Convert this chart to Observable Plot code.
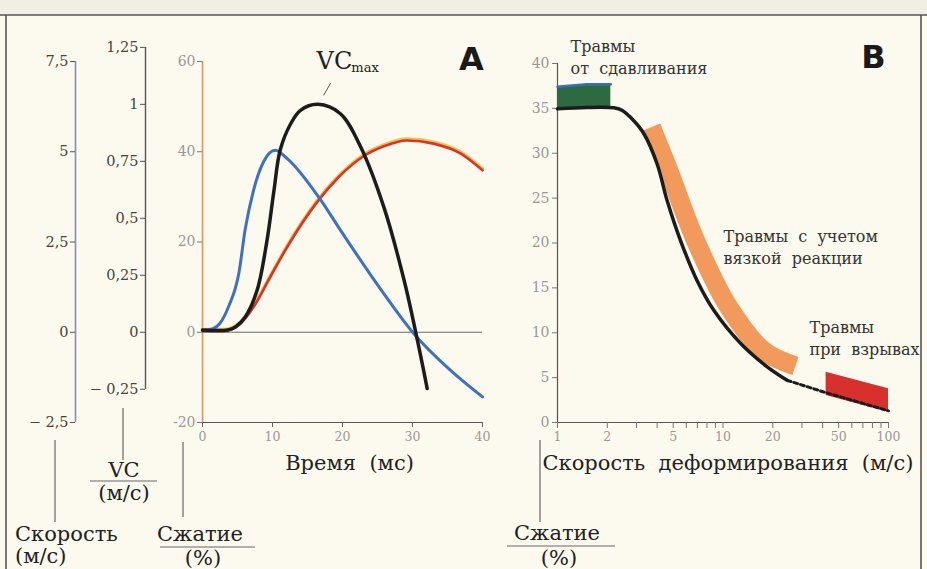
<!DOCTYPE html>
<html>
<head>
<meta charset="utf-8">
<script src="https://cdn.jsdelivr.net/npm/d3@7"></script>
<script src="https://cdn.jsdelivr.net/npm/@observablehq/plot@0.6"></script>
<style>
  html, body { margin: 0; padding: 0; background: #fcf9ee; }
  #wrap { position: relative; width: 927px; height: 569px; overflow: hidden; background: #fcf9ee; }
  #wrap > svg { position: absolute; top: 0; }
  #overlay { position: absolute; left: 0; top: 0; pointer-events: none; }
</style>
</head>
<body>
<div id="wrap"></div>
<script>
// ---------- Panel A data ----------
// velocity (m/s), blue
const velTime  = [0, 1.5, 2.5, 3.7, 5.2, 6.1, 7.3, 8.8, 10.4, 12.1, 16.9, 19.7, 25.9, 30.2, 35.4, 40];
const velSpeed = [0.05, 0.1, 0.25, 0.70, 1.64, 2.85, 3.94, 4.75, 5.04, 4.81, 3.66, 2.83, 1.07, -0.04, -1.05, -1.79];
// viscous criterion VC (m/s), black
const vcTime  = [0, 3.6, 4.7, 6.1, 7.8, 9.2, 10.2, 11.1, 12.6, 14, 16.5, 19.7, 22.6, 25.9, 28.8, 30.7, 32.1];
const vcValue = [0.01, 0.01, 0.023, 0.067, 0.184, 0.40, 0.62, 0.80, 0.915, 0.974, 1.0, 0.959, 0.813, 0.55, 0.228, -0.035, -0.247];
// compression (%), red
const compTime = [0, 3, 5.4, 7.3, 9.7, 12.1, 16.4, 19.4, 23, 25.9, 29.2, 33, 36.9, 40];
const compPct  = [0.3, 0.3, 1.9, 5.6, 12.3, 18.9, 28.9, 34.3, 39, 41.2, 42.5, 41.8, 39.6, 35.9];

// axis ticks of panel A
const speedTicks = [-2.5, 0, 2.5, 5, 7.5];
const vcTicks    = [-0.25, 0, 0.25, 0.5, 0.75, 1, 1.25];
const compTicks  = [-20, 0, 20, 40, 60];
const timeTicks  = [0, 10, 20, 30, 40];

// ---------- Panel B data ----------
const rateSolid  = [1, 1.5, 2.19, 2.45, 2.76, 3.32, 4.0, 4.6, 5.53, 6.98, 8.8, 12.8, 18.5, 24.4];
const compSolid  = [34.95, 35.1, 35.06, 34.8, 34.0, 32.2, 28.8, 24.7, 20.3, 15.8, 12.5, 8.8, 6.2, 4.7];
const rateDashed = [24.4, 40.6, 100];
const compDashed = [4.7, 3.4, 1.3];
const crushRate  = [1, 1.5, 2.1];
const crushLow   = [35.0, 35.1, 35.1];
const crushHigh  = [37.4, 37.7, 37.7];
const viscRate   = [3.69, 4.7, 6.82, 10.84, 17.6, 27.4];
const viscComp   = [32.9, 28.1, 20.3, 12.85, 8.0, 6.3];
const blastRate  = [42, 100];
const blastLow   = [3.0, 1.15];
const blastHigh  = [5.6, 3.75];

const rateTicks  = [1,2,3,4,5,6,7,8,9,10,20,30,40,50,60,70,80,90,100];
const rateLabels = [1,2,5,10,20,50,100];
const compBTicks = [0,5,10,15,20,25,30,35,40];

// ---------- helpers ----------
const SPEED_K = 8;     // 1 m/s of velocity on the shared compression scale
const VC_K = 50.5;     // 1 m/s of VC on the shared compression scale
const comma = v => (v < 0 ? "\u2212 " : "") + String(Math.abs(v)).replace(".", ",");
const zip = (xs, ys, kx, ky) => xs.map((x, i) => ({[kx]: x, [ky]: ys[i]}));

const vel  = zip(velTime, velSpeed, "t", "v");
const vc   = zip(vcTime, vcValue, "t", "v");
const comp = zip(compTime, compPct, "t", "c");

const solid  = zip(rateSolid, compSolid, "r", "c");
const dashed = zip(rateDashed, compDashed, "r", "c");
const crush  = crushRate.map((r, i) => ({r, lo: crushLow[i], hi: crushHigh[i]}));
const visc   = zip(viscRate, viscComp, "r", "c");
const blast  = blastRate.map((r, i) => ({r, lo: blastLow[i], hi: blastHigh[i]}));

const FONT = "DejaVu Serif, serif";
const SANS = "DejaVu Sans, sans-serif";
const baseStyle = {background: "transparent", fontFamily: FONT, overflow: "visible", color: "#222"};

// ---------- Panel A ----------
const plotA = Plot.plot({
  width: 500, height: 569,
  marginLeft: 202, marginRight: 18, marginTop: 61, marginBottom: 147,
  x: {domain: [0, 40], axis: null},
  y: {domain: [-20, 60], axis: null},
  style: baseStyle,
  marks: [
    // compression axis (orange line)
    Plot.ruleX([0], {y1: -20, y2: 60, stroke: "#e39463", strokeWidth: 1.6}),
    Plot.axisY(compTicks, {anchor: "left", tickSize: 5, tickPadding: 2, fontSize: 14, fill: "#999", stroke: "#777", label: null, tickFormat: d => String(d)}),
    // velocity axis
    Plot.ruleX([0], {y1: speedTicks[0] * SPEED_K, y2: speedTicks[speedTicks.length - 1] * SPEED_K, dx: -127, stroke: "#7d8ec6", strokeWidth: 1.6}),
    Plot.axisY(speedTicks.map(v => v * SPEED_K), {anchor: "left", dx: -127, tickSize: 5, tickPadding: 2, fontSize: 14.5, fill: "#444", stroke: "#555", label: null, tickFormat: d => comma(d / SPEED_K)}),
    // VC axis
    Plot.ruleX([0], {y1: vcTicks[0] * VC_K, y2: vcTicks[vcTicks.length - 1] * VC_K, dx: -57, stroke: "#555", strokeWidth: 1.4}),
    Plot.axisY(vcTicks.map(v => v * VC_K), {anchor: "left", dx: -57, tickSize: 5, tickPadding: 2, fontSize: 14.5, fill: "#444", stroke: "#555", label: null, tickFormat: d => comma(+(d / VC_K).toFixed(2))}),
    // x axis
    Plot.ruleY([-20], {stroke: "#555", strokeWidth: 1.2}),
    Plot.axisX(timeTicks, {anchor: "bottom", tickSize: 5, tickPadding: 5, fontSize: 12.5, fill: "#999", stroke: "#666", label: null}),
    Plot.text(["Время  (мс)"], {frameAnchor: "bottom", dx: 7, dy: 47, fontSize: 21, fill: "#222"}),
    // zero line
    Plot.ruleY([0], {stroke: "#6a6a6a", strokeWidth: 1}),
    // curves
    Plot.line(comp, {x: "t", y: "c", stroke: "#f3c24c", strokeWidth: 3, dy: -1.6, curve: "monotone-x"}),
    Plot.line(comp, {x: "t", y: "c", stroke: "#d8342b", strokeWidth: 2.6, curve: "monotone-x"}),
    Plot.line(vel, {x: "t", y: d => d.v * SPEED_K, stroke: "#3f70c2", strokeWidth: 3, curve: "monotone-x"}),
    Plot.line(vc, {x: "t", y: d => d.v * VC_K, stroke: "#1c1c1c", strokeWidth: 3.5, curve: "catmull-rom"}),
    // VCmax annotation
    Plot.link([{x1: 17.3, y1: 52.5, x2: 18.3, y2: 55.2}], {x1: "x1", y1: "y1", x2: "x2", y2: "y2", stroke: "#555", strokeWidth: 1}),
    Plot.text(["VC"], {x: 21.4, y: 60.0, textAnchor: "end", fontSize: 24, fill: "#222"}),
    Plot.text(["max"], {x: 21.4, y: 58.5, dx: -1, textAnchor: "start", fontSize: 13, fill: "#222"}),
    // panel letter
    Plot.text(["A"], {x: 38.4, y: 60.3, fontSize: 32, fontWeight: 900, fontFamily: SANS, fill: "#1a1a1a"})
  ]
});

// ---------- Panel B ----------
const plotB = Plot.plot({
  width: 467, height: 569,
  marginLeft: 97, marginRight: 39, marginTop: 63, marginBottom: 147,
  x: {type: "log", domain: [1, 100], axis: null},
  y: {domain: [0, 40], axis: null},
  style: baseStyle,
  marks: [
    Plot.ruleX([1], {y1: 0, y2: 40, stroke: "#555", strokeWidth: 1.2}),
    Plot.ruleY([0], {stroke: "#555", strokeWidth: 1.2}),
    Plot.axisY(compBTicks, {anchor: "left", tickSize: 5, tickPadding: 3, fontSize: 14, fill: "#999", stroke: "#777", label: null}),
    Plot.axisX(rateTicks, {anchor: "bottom", tickSize: 6, fill: "none", stroke: "#777", label: null}),
    Plot.text(rateLabels, {x: d => d, text: d => String(d), frameAnchor: "bottom", dy: 18, fontSize: 12.5, fill: "#999"}),
    Plot.text(["Скорость  деформирования  (м/с)"], {frameAnchor: "bottom-left", textAnchor: "start", dx: -15, dy: 47, fontSize: 21, fill: "#222"}),
    // bands
    Plot.areaY(crush, {x: "r", y1: "lo", y2: "hi", fill: "#2c6a42"}),
    Plot.line(crush, {x: "r", y: "hi", stroke: "#3b6fb5", strokeWidth: 2.5}),
    Plot.line(visc, {x: "r", y: "c", stroke: "#f29a5c", strokeWidth: 19, strokeLinecap: "butt", curve: "catmull-rom"}),
    Plot.areaY(blast, {x: "r", y1: "lo", y2: "hi", fill: "#d8302c"}),
    // curve
    Plot.line(solid, {x: "r", y: "c", stroke: "#1c1c1c", strokeWidth: 3.5, curve: "catmull-rom"}),
    Plot.line(dashed, {x: "r", y: "c", stroke: "#1c1c1c", strokeWidth: 3, strokeDasharray: "4,3"}),
    // annotations
    Plot.text(["Травмы\nот  сдавливания"], {x: 1.2, y: 43.05, textAnchor: "start", lineAnchor: "top", lineHeight: 1.375, fontSize: 16, fill: "#333"}),
    Plot.text(["Травмы  с  учетом\nвязкой  реакции"], {x: 10.07, y: 21.9, textAnchor: "start", lineAnchor: "top", lineHeight: 1.375, fontSize: 16, fill: "#333"}),
    Plot.text(["Травмы\nпри  взрывах"], {x: 33.3, y: 11.75, textAnchor: "start", lineAnchor: "top", lineHeight: 1.375, fontSize: 16, fill: "#333"}),
    Plot.text(["B"], {x: 81.2, y: 40.6, fontSize: 32, fontWeight: 900, fontFamily: SANS, fill: "#1a1a1a"})
  ]
});

const wrap = document.getElementById("wrap");
plotA.style.left = "0px";
plotB.style.left = "460px";
wrap.appendChild(plotA);
wrap.appendChild(plotB);

// frame, leader lines and stacked axis titles
const overlay = `
<svg id="overlay" width="927" height="569" xmlns="http://www.w3.org/2000/svg">
  <rect x="0" y="0" width="927" height="15" fill="#f1eee3"/>
  <g stroke="#555" stroke-width="1.6">
    <line x1="0" y1="15" x2="927" y2="15"/>
    <line x1="6" y1="15" x2="6" y2="569"/>
    <line x1="921" y1="15" x2="921" y2="569"/>
  </g>
  <g stroke="#666" stroke-width="1.2">
    <line x1="55" y1="440" x2="55" y2="522"/>
    <line x1="123" y1="408" x2="123" y2="460"/>
    <line x1="183" y1="442" x2="183" y2="517"/>
    <line x1="540" y1="440" x2="540" y2="522"/>
    <line x1="90" y1="481" x2="157" y2="481"/>
    <line x1="160" y1="547" x2="255" y2="547"/>
    <line x1="507" y1="546" x2="615" y2="546"/>
  </g>
  <g font-size="21" fill="#222" font-family="DejaVu Serif, serif">
    <text x="124" y="477" text-anchor="middle">VC</text>
    <text x="124" y="500" text-anchor="middle">(м/с)</text>
    <text x="15" y="541">Скорость</text>
    <text x="15" y="563">(м/с)</text>
    <text x="157" y="541">Сжатие</text>
    <text x="203" y="565" text-anchor="middle">(%)</text>
    <text x="514" y="540">Сжатие</text>
    <text x="559" y="565" text-anchor="middle">(%)</text>
  </g>
</svg>`;
wrap.insertAdjacentHTML("beforeend", overlay);
</script>
</body>
</html>
